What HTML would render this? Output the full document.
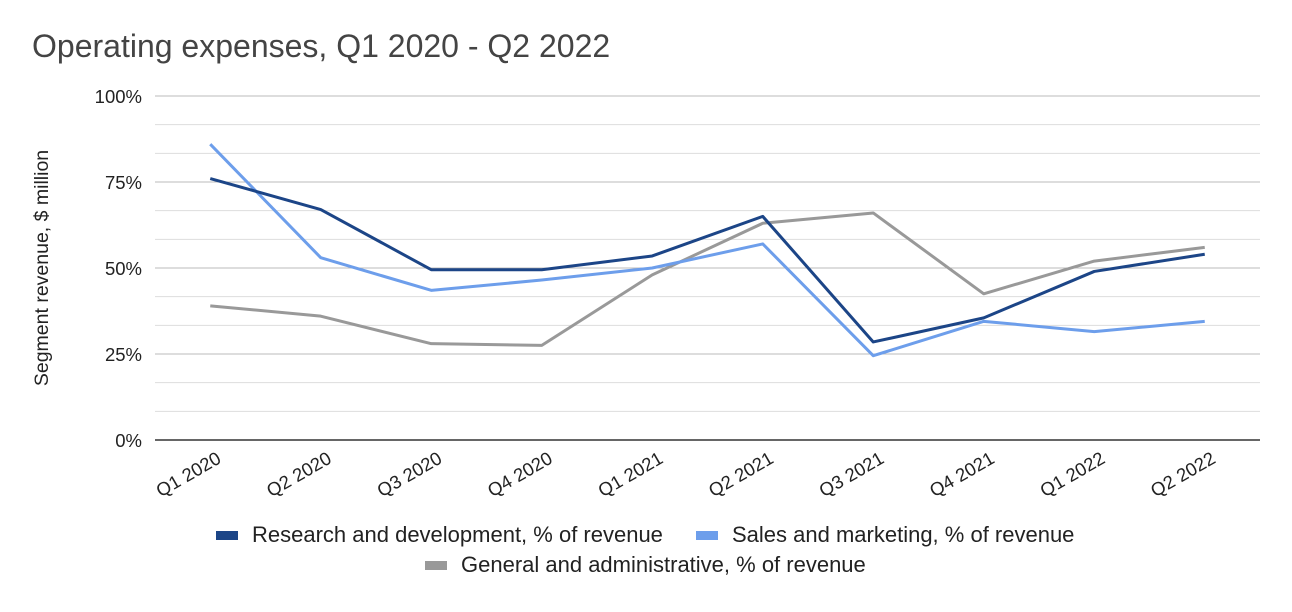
<!DOCTYPE html>
<html><head><meta charset="utf-8"><style>
body{margin:0;background:#fff;}
svg text{font-family:"Liberation Sans",Arial,sans-serif;}
</style></head><body>
<svg id="chart" width="1292" height="607" xmlns="http://www.w3.org/2000/svg">
<text x="32" y="57" font-size="32" fill="#444">Operating expenses, Q1 2020 - Q2 2022</text>
<text transform="translate(48,268) rotate(-90)" text-anchor="middle" font-size="19.5" fill="#222">Segment revenue, $ million</text>
<g id="grid"></g><g id="series"></g><g id="labels"></g>
<g>
<rect x="216" y="531" width="22" height="9" fill="#1c4587"/>
<text x="252" y="542" font-size="22" fill="#222">Research and development, % of revenue</text>
<rect x="696" y="531" width="22" height="9" fill="#6d9eeb"/>
<text x="732" y="542" font-size="22" fill="#222">Sales and marketing, % of revenue</text>
<rect x="425" y="561" width="22" height="9" fill="#999"/>
<text x="461" y="572" font-size="22" fill="#222">General and administrative, % of revenue</text>
</g>
</svg>
<script>
const categories=["Q1 2020","Q2 2020","Q3 2020","Q4 2020","Q1 2021","Q2 2021","Q3 2021","Q4 2021","Q1 2022","Q2 2022"];
const rdValues=[76,67,49.5,49.5,53.5,65,28.5,35.5,49,54];
const smValues=[86,53,43.5,46.5,50,57,24.5,34.5,31.5,34.5];
const gaValues=[39,36,28,27.5,48,63,66,42.5,52,56];
const yTicks=[0,25,50,75,100];
const NS="http://www.w3.org/2000/svg";
const L=155,R=1260,T=96,B=440;
const x=i=>L+(R-L)/categories.length*(i+0.5);
const y=v=>B-(v/100)*(B-T);
const grid=document.getElementById('grid'),ser=document.getElementById('series'),lab=document.getElementById('labels');
for(let k=0;k<=12;k++){const v=k*100/12;const ln=document.createElementNS(NS,'line');


ln.setAttribute('x1',L);ln.setAttribute('x2',R);ln.setAttribute('y1',y(v));ln.setAttribute('y2',y(v));
ln.setAttribute('stroke',k===0?'#333':(k%3===0?'#bbb':'#ddd'));ln.setAttribute('stroke-width',k===0?1.5:1);grid.appendChild(ln);}
yTicks.forEach(t=>{const tx=document.createElementNS(NS,'text');


tx.setAttribute('x',142);tx.setAttribute('y',y(t)+7);tx.setAttribute('text-anchor','end');tx.setAttribute('font-size','18.5');tx.setAttribute('fill','#222');tx.textContent=t+'%';lab.appendChild(tx);});
categories.forEach((c,i)=>{const tx=document.createElementNS(NS,'text');


tx.setAttribute('transform','translate('+(x(i)+12)+',462) rotate(-30)');tx.setAttribute('text-anchor','end');tx.setAttribute('font-size','18.5');tx.setAttribute('fill','#222');tx.textContent=c;lab.appendChild(tx);});
[[gaValues,'#999','series-general-admin'],[smValues,'#6d9eeb','series-sales-marketing'],[rdValues,'#1c4587','series-research-development']].forEach(([vals,col,name])=>{
const p=document.createElementNS(NS,'polyline');


p.setAttribute('points',vals.map((v,i)=>x(i)+','+y(v)).join(' '));p.setAttribute('fill','none');p.setAttribute('stroke',col);p.setAttribute('stroke-width','3');p.setAttribute('stroke-linejoin','round');ser.appendChild(p);});
</script>
</body></html>
